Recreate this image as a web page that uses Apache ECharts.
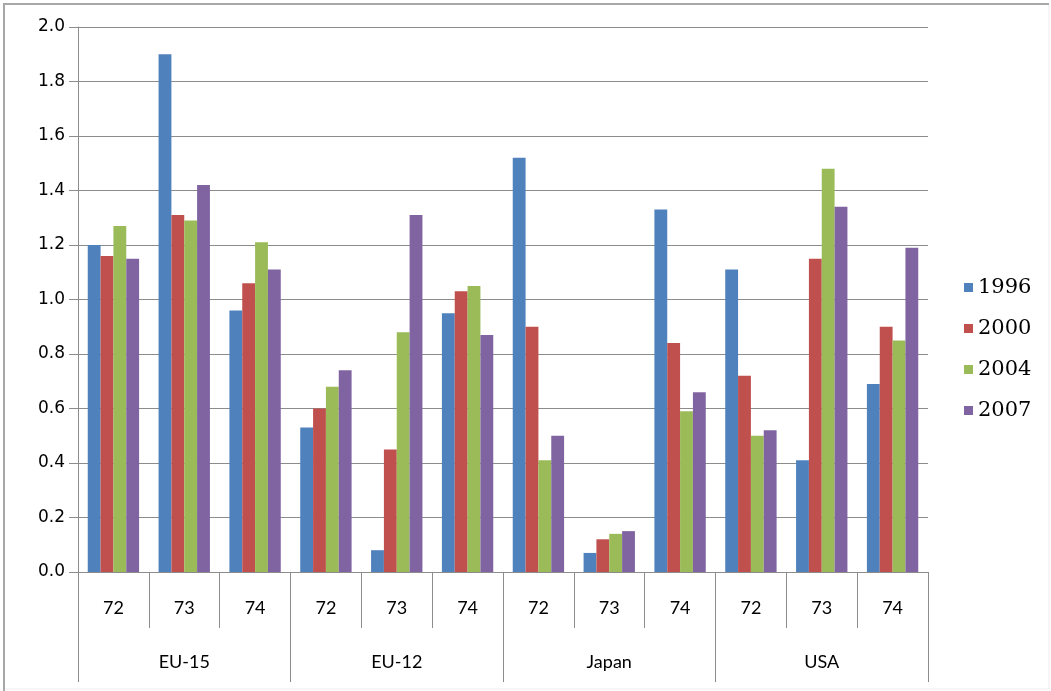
<!DOCTYPE html>
<html>
<head>
<meta charset="utf-8">
<title>Indicators 72–74 by region</title>
<script src="https://cdn.jsdelivr.net/npm/echarts@6/dist/echarts.min.js"></script>
<style>
  html, body { margin: 0; padding: 0; background: #ffffff; }
  #chart { width: 1051px; height: 691px; }
</style>
</head>
<body>
<div id="chart"></div>
<script>
// Regions, each split into the three indicators 72, 73, 74
const regions = ['EU-15', 'EU-12', 'Japan', 'USA'];
const codes = ['72', '73', '74'];
const years = ['1996', '2000', '2004', '2007'];

// Values per year, in order EU-15 72..74, EU-12 72..74, Japan 72..74, USA 72..74
const v1996 = [1.20, 1.90, 0.96, 0.53, 0.08, 0.95, 1.52, 0.07, 1.33, 1.11, 0.41, 0.69];
const v2000 = [1.16, 1.31, 1.06, 0.60, 0.45, 1.03, 0.90, 0.12, 0.84, 0.72, 1.15, 0.90];
const v2004 = [1.27, 1.29, 1.21, 0.68, 0.88, 1.05, 0.41, 0.14, 0.59, 0.50, 1.48, 0.85];
const v2007 = [1.15, 1.42, 1.11, 0.74, 1.31, 0.87, 0.50, 0.15, 0.66, 0.52, 1.34, 1.19];

const yTicks = { min: 0, max: 2.0, step: 0.2 };
const colors = ['#4F81BD', '#C0504D', '#9BBB59', '#8064A2'];

const seriesValues = [v1996, v2000, v2004, v2007];
const categories = [];
regions.forEach(() => codes.forEach(c => categories.push(c)));

const axisGray = '#8c8c8c';
const chart = echarts.init(document.getElementById('chart'), null, { renderer: 'canvas' });

chart.setOption({
  animation: false,
  backgroundColor: '#ffffff',
  color: colors,
  grid: { left: 78, right: 123, top: 27, bottom: 119, containLabel: false },
  legend: {
    orient: 'vertical',
    left: 964,
    top: 277,
    padding: 0,
    itemWidth: 9,
    itemHeight: 9,
    itemGap: 20,
    icon: 'rect',
    data: years,
    textStyle: { fontFamily: 'DejaVu Serif', fontSize: 21, color: '#000000' }
  },
  xAxis: [
    {
      type: 'category',
      data: categories,
      position: 'bottom',
      axisLine: { show: true, lineStyle: { color: axisGray, width: 1 } },
      axisTick: { show: true, interval: 0, length: 56, lineStyle: { color: axisGray, width: 1 } },
      axisLabel: { interval: 0, margin: 27, fontFamily: 'Lato', fontSize: 18, color: '#000000' },
      splitLine: { show: false }
    },
    {
      type: 'category',
      data: regions,
      position: 'bottom',
      offset: 0,
      axisLine: { show: false },
      axisTick: { show: true, interval: 0, length: 110, lineStyle: { color: axisGray, width: 1 } },
      axisLabel: { interval: 0, margin: 81, fontFamily: 'Lato', fontSize: 18, color: '#000000' },
      splitLine: { show: false }
    }
  ],
  yAxis: {
    type: 'value',
    min: yTicks.min,
    max: yTicks.max,
    interval: yTicks.step,
    axisLine: { show: true, lineStyle: { color: axisGray, width: 1 } },
    axisTick: { show: true, length: 9, lineStyle: { color: axisGray, width: 1 } },
    axisLabel: {
      margin: 13,
      fontFamily: 'DejaVu Sans',
      fontSize: 17,
      color: '#000000',
      formatter: v => v.toFixed(1)
    },
    splitLine: { show: true, lineStyle: { color: axisGray, width: 1 } }
  },
  series: years.map((y, i) => ({
    name: y,
    type: 'bar',
    xAxisIndex: 0,
    data: seriesValues[i],
    barGap: '0%',
    barCategoryGap: '27.5%',
    itemStyle: { color: colors[i] }
  })),
  graphic: [
    {
      type: 'rect',
      silent: true,
      shape: { x: 4, y: 4, width: 1045, height: 685 },
      style: { fill: 'none', stroke: '#ededed', lineWidth: 1 }
    },
    {
      type: 'polyline',
      silent: true,
      shape: { points: [[4, 700], [4, 4], [1049, 4]] },
      style: { fill: 'none', stroke: '#a8a8a8', lineWidth: 2 }
    }
  ]
});
</script>
</body>
</html>
